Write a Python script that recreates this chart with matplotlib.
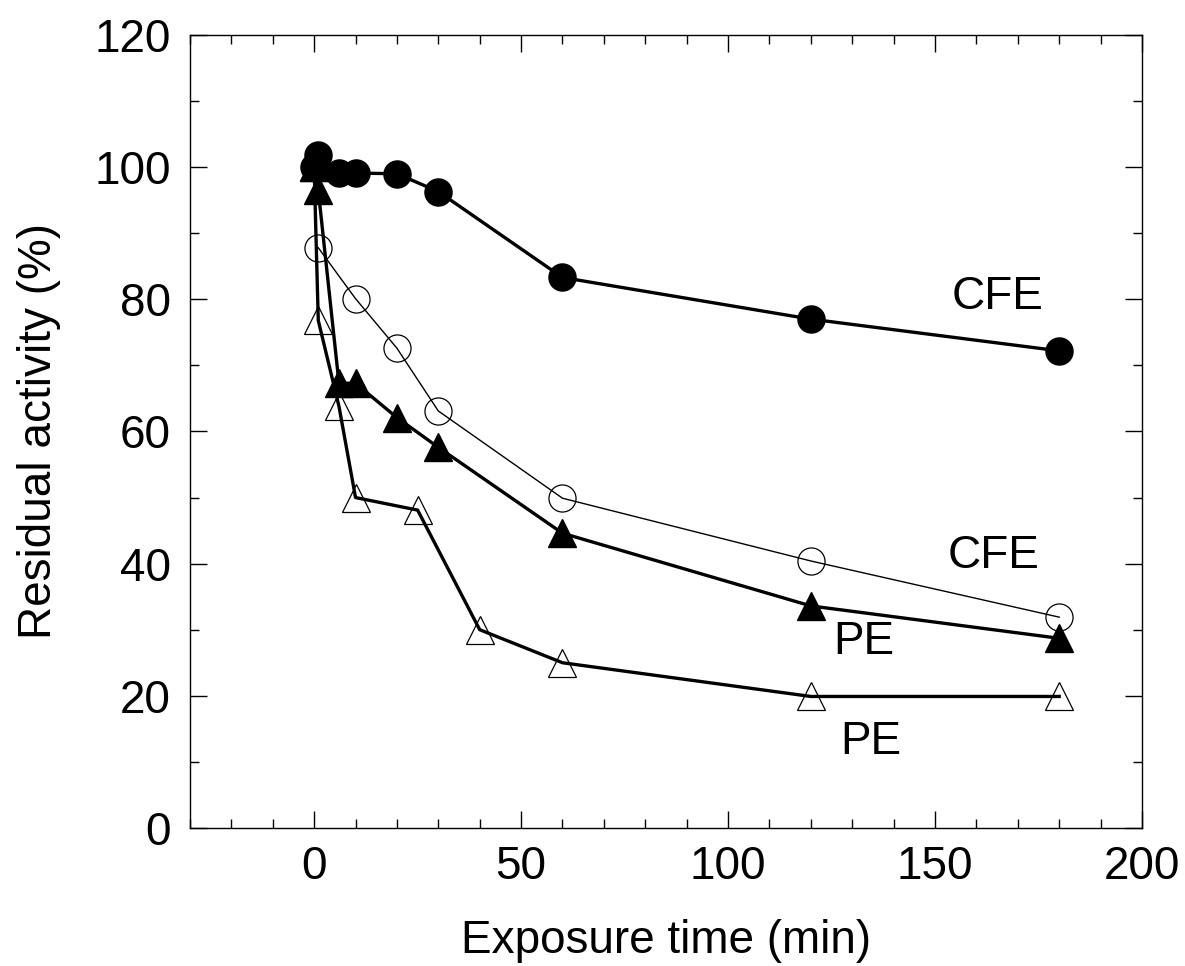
import matplotlib
matplotlib.use('Agg')
import matplotlib.pyplot as plt
from matplotlib.ticker import MultipleLocator

plt.rcParams['font.family'] = ['Liberation Sans', 'DejaVu Sans']

# CFE, filled circles
cfe_fill_x = [0, 1, 6, 10, 20, 30, 60, 120, 180]
cfe_fill_y = [100, 101.8, 99.1, 99.1, 99.0, 96.3, 83.3, 77.0, 72.2]

# CFE, open circles
cfe_open_x = [1, 10, 20, 30, 60, 120, 180]
cfe_open_y = [87.8, 80.1, 72.6, 63.1, 49.9, 40.4, 31.9]

# PE, filled triangles
pe_fill_x = [0, 1, 6, 10, 20, 30, 60, 120, 180]
pe_fill_y = [100, 96.5, 67.3, 67.3, 62.1, 57.6, 44.6, 33.6, 28.7]

# PE, open triangles
pe_open_x = [0, 1, 6, 10, 25, 40, 60, 120, 180]
pe_open_y = [100, 76.8, 63.8, 50.0, 48.1, 30.0, 25.0, 19.9, 19.9]

labels = ['CFE', 'CFE', 'PE', 'PE']
label_x = [154, 153, 125.5, 127]
label_y = [80.3, 41.1, 28.1, 13.0]

fig = plt.figure(figsize=(11.85, 9.66), dpi=100)
ax = fig.add_axes([0.1603, 0.1429, 0.8034, 0.8209])

ms = 19.5
ax.plot(cfe_fill_x, cfe_fill_y, color='black', lw=2.4, marker='o', ms=ms,
        mfc='black', mec='black', zorder=3)
ax.plot(cfe_open_x, cfe_open_y, color='black', lw=1.0, marker='o', ms=ms,
        mfc='none', mec='black', mew=0.9, zorder=3)
ax.plot(pe_fill_x, pe_fill_y, color='black', lw=2.4, marker='^', ms=ms,
        mfc='black', mec='black', zorder=3)
ax.plot(pe_open_x, pe_open_y, color='black', lw=2.4, marker='^', ms=ms,
        mfc='none', mec='black', mew=0.9, zorder=3)

for t, x, y in zip(labels, label_x, label_y):
    ax.text(x, y, t, fontsize=33, ha='left', va='center')

ax.set_xlim(-30, 200)
ax.set_ylim(0, 120)
ax.xaxis.set_major_locator(MultipleLocator(50))
ax.xaxis.set_minor_locator(MultipleLocator(10))
ax.yaxis.set_major_locator(MultipleLocator(20))
ax.yaxis.set_minor_locator(MultipleLocator(10))
ax.set_xticks([0, 50, 100, 150, 200])

ax.tick_params(which='both', direction='in', top=True, right=True, width=1)
ax.tick_params(which='major', length=12, labelsize=33)
ax.tick_params(axis='x', which='major', pad=12)
ax.tick_params(axis='y', which='major', pad=14)
ax.tick_params(which='minor', length=6.5)
for s in ax.spines.values():
    s.set_linewidth(1)

ax.set_xlabel('Exposure time (min)', fontsize=33, labelpad=22)
ax.set_ylabel('Residual activity (%)', fontsize=33, labelpad=24)

fig.savefig('out.png', dpi=100)
